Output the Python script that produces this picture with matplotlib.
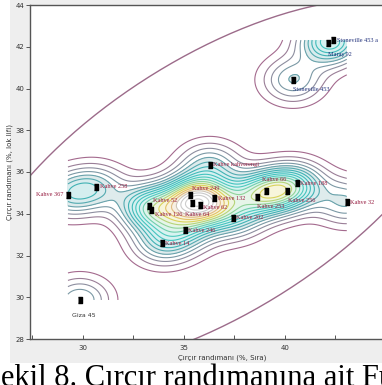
import numpy as np
import matplotlib.pyplot as plt
from matplotlib.colors import LinearSegmentedColormap, Normalize, to_rgb
from matplotlib.patches import Rectangle

# genotypes: x = saw gin turnout (%), y = roller gin turnout (%)
names = ['Stoneville 453 a', 'Maraş 92', 'Stoneville 453',
         'Kahve 367', 'Kahve 258', 'Kahve 52', 'Kahve 126', 'Kahve 249',
         'Kahve 64', 'Kahve 62', 'Kahve 132', 'Kahve 246', 'Kahve 14',
         'Kahve kahverengi', 'Kahve 66', 'Kahve 188', 'Kahve 256',
         'Kahve 253', 'Kahve 202', 'Kahve 32', 'Giza 45']
x_vals = [42.38, 42.13, 40.40,
          29.26, 30.64, 33.27, 33.37, 35.30,
          35.40, 35.79, 36.49, 35.05, 33.91,
          36.29, 39.06, 40.59, 40.10,
          38.61, 37.43, 43.07, 29.85]
y_vals = [42.32, 42.18, 40.41,
          34.90, 35.28, 34.37, 34.18, 34.90,
          34.51, 34.42, 34.75, 33.22, 32.60,
          36.34, 35.09, 35.47, 35.09,
          34.80, 33.80, 34.56, 29.87]
groups = ['stv', 'stv', 'stv'] + ['kahve'] * 17 + ['giza']

# label offsets in points (dx, dy, ha)
label_pos = {
    'Stoneville 453 a': (3, 0, 'left'), 'Maraş 92': (0, -8.5, 'left'),
    'Stoneville 453': (0, -7, 'left'), 'Kahve 367': (-3, 0, 'right'),
    'Kahve 258': (3, 0.7, 'left'), 'Kahve 52': (3, 4.3, 'left'),
    'Kahve 126': (3, -3.5, 'left'), 'Kahve 249': (1.5, 5, 'left'),
    'Kahve 64': (-5, -8.5, 'left'), 'Kahve 62': (2, -1.5, 'left'),
    'Kahve 132': (3, 0, 'left'), 'Kahve 246': (2.2, 0, 'left'),
    'Kahve 14': (2.2, -0.7, 'left'), 'Kahve kahverengi': (2.2, 0, 'left'),
    'Kahve 66': (-3, 8.6, 'left'), 'Kahve 188': (2.5, 0, 'left'),
    'Kahve 256': (0.7, -7, 'left'), 'Kahve 253': (0, -7, 'left'),
    'Kahve 202': (2.5, 0, 'left'), 'Kahve 32': (2.5, 0, 'left'),
    'Giza 45': (3, -11, 'center'),
}
label_colors = {'kahve': '#961c40', 'stv': '#1f2f7a', 'giza': '#333333'}

x = np.array(x_vals)
y = np.array(y_vals)

fig = plt.figure(figsize=(3.82, 3.85), dpi=100)
fig.patches.append(Rectangle((10 / 382, 22 / 385), 1, 1, transform=fig.transFigure,
                             facecolor='#eeeeee', edgecolor='none', zorder=-10))
ax = fig.add_axes([30 / 382, 46 / 385, 384 / 382, 334 / 385])
ax.set_facecolor('white')

# kernel density over the bounding box of the genotypes
hx, hy = 1.05, 0.76
gx = np.linspace(x.min(), x.max(), 300)
gy = np.linspace(y.min(), y.max(), 300)
GX, GY = np.meshgrid(gx, gy)
Z = np.zeros_like(GX)
for xi, yi in zip(x, y):
    Z += np.exp(-0.5 * (((GX - xi) / hx) ** 2 + ((GY - yi) / hy) ** 2))

levels = np.arange(0.2, Z.max(), 0.2)
cmap = LinearSegmentedColormap.from_list('fz', [
    (0.0, '#a46a8e'), (0.08, '#948a9c'), (0.18, '#739ea8'), (0.32, '#3fb3b5'),
    (0.46, '#45c9c3'), (0.58, '#8fd39a'), (0.68, '#d8d45a'), (0.77, '#e8b86a'),
    (0.86, '#c8c8c8'), (1.0, '#d0d0d0')])
norm = Normalize(0.2, 4.0)
line_cols = [cmap(norm(v)) for v in levels]

fill_cols = []
for v in levels[:-1]:
    c = np.array(to_rgb(cmap(norm(v))))
    if v < 1.0 or v >= 3.4:
        fill_cols.append((1, 1, 1))
    else:
        fill_cols.append(tuple(1 - 0.22 * (1 - c)))
ax.contourf(GX, GY, Z, levels=levels, colors=fill_cols, zorder=1)
ax.contour(GX, GY, Z, levels=levels, colors=line_cols, linewidths=0.8, zorder=2)

# 99% confidence ellipse of all genotypes
mu = np.array([x.mean(), y.mean()])
L = np.linalg.cholesky(np.cov(x, y))
t = np.linspace(0, 2 * np.pi, 400)
ell = mu[:, None] + np.sqrt(9.21) * L @ np.vstack([np.cos(t), np.sin(t)])
ax.plot(ell[0], ell[1], color='#9c6b8a', lw=1.0, zorder=2)

marker_box = [(-1, -2), (1, -2), (1, 2), (-1, 2)]
ax.plot(x, y, ls='none', marker=marker_box, ms=4.5, color='black', zorder=4)

for n, xi, yi, g in zip(names, x, y, groups):
    dx, dy, ha = label_pos[n]
    fam = ['Liberation Sans Narrow', 'DejaVu Sans'] if g == 'giza' else ['Liberation Serif']
    ax.annotate(n, (xi, yi), xytext=(dx, dy), textcoords='offset points',
                ha=ha, va='center', fontsize=4.5, color=label_colors[g],
                family=fam, zorder=5)

ax.set_xlim(27.38, 46.4)
ax.set_ylim(28, 44)
xt = np.arange(27.5, 46, 2.5)
ax.set_xticks(xt)
ax.set_xticklabels([f'{v:.0f}' if v in (30, 35, 40) else '' for v in xt])
ax.set_yticks(np.arange(28, 45, 2))
tick_font = ['Liberation Sans Narrow', 'DejaVu Sans']
for lab in ax.get_xticklabels() + ax.get_yticklabels():
    lab.set_family(tick_font)
ax.tick_params(axis='x', direction='in', length=3, width=0.7, labelsize=5,
               color='#555555', labelcolor='#333333', pad=4)
ax.tick_params(axis='y', direction='out', length=3, width=0.7, labelsize=5,
               color='#555555', labelcolor='#333333', pad=1)
for s in ax.spines.values():
    s.set_color('#555555')
    s.set_linewidth(1.0)

ax.set_xlabel('Çırçır randımanı (%, Sıra)', fontsize=5, family=tick_font,
              color='#333333', labelpad=3)
ax.set_ylabel('Çırçır randımanı (%, lok lifi)', fontsize=5, family=tick_font,
              color='#333333', labelpad=3)
ax.yaxis.set_label_coords(-0.045, 0.5)

fig.text(-16 / 382, -0.002, 'Şekil 8. Çırçır randımanına ait Fuzzy kümeleme',
         fontsize=22, family='Liberation Serif', ha='left', va='baseline')

fig.savefig('out.png', dpi=100)
